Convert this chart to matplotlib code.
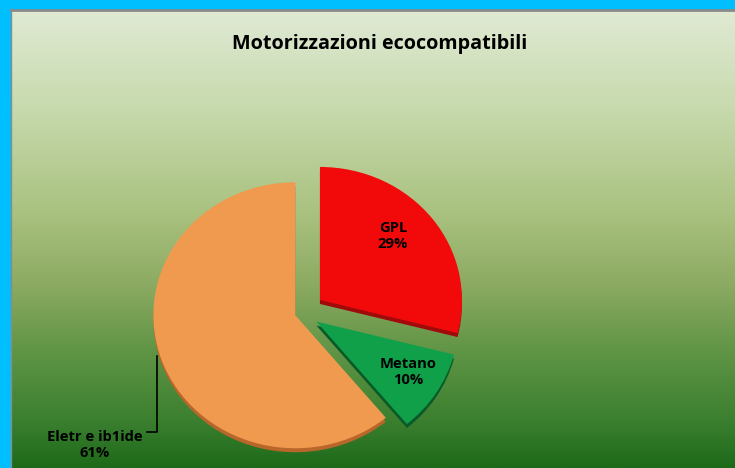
import numpy as np
import matplotlib
matplotlib.use("Agg")
import matplotlib.pyplot as plt
from matplotlib.colors import LinearSegmentedColormap

# data
labels = ["GPL", "Metano", "Eletr e ib1ide"]
shares = [29, 10, 61]
colors = ["#f20a0a", "#10a04a", "#f09a50"]
edge_colors = ["#a00a0a", "#0a5a28", "#b8662a"]
explode = [0.16, 0.12, 0.05]
title = "Motorizzazioni ecocompatibili"
# label anchor points in pixels (x, y from top)
label_pos = [(393, 236), (408, 372), (95, 445)]

W, H = 735, 468
fig = plt.figure(figsize=(W / 100, H / 100), dpi=100)
fig.patch.set_facecolor("#00bfff")

# gradient background of the chart area
bg = fig.add_axes([11 / W, 0, 1 - 11 / W, 1 - 10 / H])
grad = LinearSegmentedColormap.from_list("bg", [
    (0.0, "#e0ead4"), (0.2, "#c9dbb0"), (0.45, "#a8c17e"),
    (0.6, "#8caa62"), (0.75, "#5f9445"), (0.9, "#3a7f2f"), (1.0, "#1d6a19")])
bg.imshow(np.linspace(0, 1, 256).reshape(-1, 1), aspect="auto", cmap=grad,
          extent=[0, 1, 0, 1])
bg.set_axis_off()
# thin grey frame line
fig.add_artist(plt.Line2D([11 / W, 1], [1 - 9.5 / H] * 2, color="#8a8a8a", lw=2))
fig.add_artist(plt.Line2D([10.5 / W] * 2, [0, 1 - 9 / H], color="#8a8a8a", lw=1))

fig.text(380 / W, 1 - 44 / H, title, ha="center", va="center",
         fontsize=14.2, fontweight="bold", family="Open Sans")

# pie axes: 1 unit = 142 px horizontally, 133 px vertically
rx, ry = 142, 133
cx, cy = 302, 313
ax = fig.add_axes([(cx - 1.5 * rx) / W, (H - cy - 1.5 * ry) / H,
                   3 * rx / W, 3 * ry / H])

# depth layer
depth = 4 / ry
wd, _ = ax.pie(shares, colors=edge_colors, explode=explode, startangle=90,
               counterclock=False, center=(0, -depth), normalize=True)
for w in wd:
    w.set_zorder(1)
wedges, _ = ax.pie(shares, colors=colors, explode=explode, startangle=90,
                   counterclock=False, normalize=True)
for w in wedges:
    w.set_zorder(2)
ax.set_xlim(-1.5, 1.5)
ax.set_ylim(-1.5, 1.5)
ax.set_aspect("auto")
ax.set_axis_off()

def to_data(px, py):
    return (px - cx) / rx, (cy - py) / ry

for lab, s, (px, py) in zip(labels, shares, label_pos):
    x, y = to_data(px, py)
    ax.text(x, y, f"{lab}\n{s}%", ha="center", va="center", fontsize=10.6,
            fontweight="bold", family="Open Sans", zorder=5, linespacing=1.25)

# leader line for the large slice
p1, p2, p3 = to_data(147, 432), to_data(157, 432), to_data(157, 356)
ax.plot([p1[0], p2[0], p3[0]], [p1[1], p2[1], p3[1]],
        color="black", lw=1.2, zorder=0.5, clip_on=False)

fig.savefig("out.png", dpi=100)
